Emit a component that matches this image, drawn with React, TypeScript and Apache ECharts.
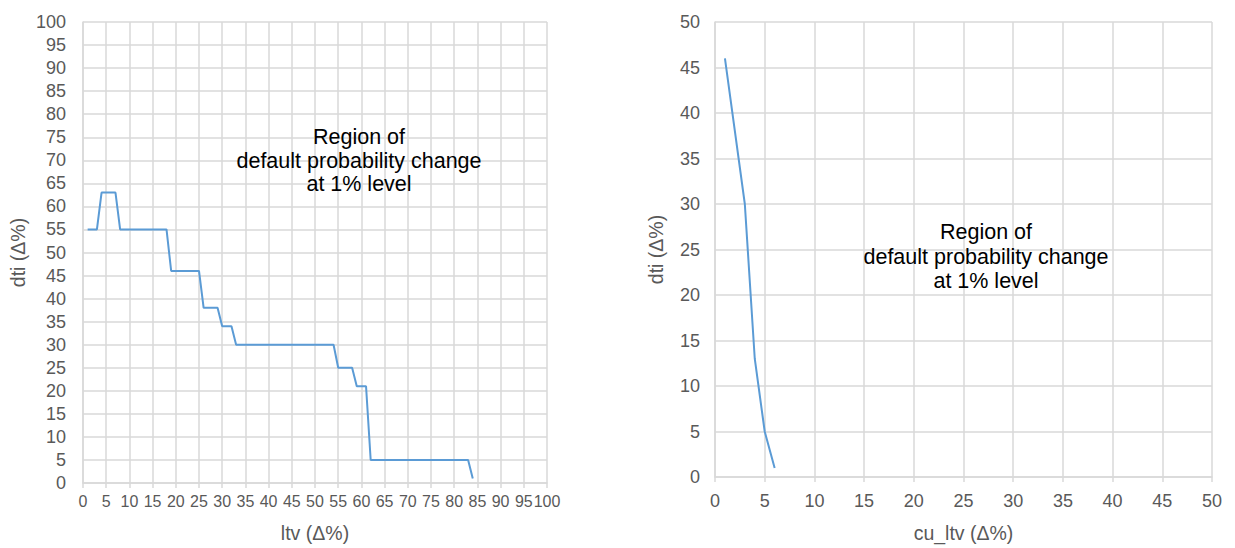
import React, { useEffect, useRef } from "react";
import * as echarts from "echarts";

// Left panel: ltv (Δ%) vs dti (Δ%)
const ltv = [1, 3, 4, 7, 8, 18, 19, 25, 26, 29, 30, 32, 33, 54, 55, 58, 59, 61, 62, 83, 84];
const dtiLeft = [55, 55, 63, 63, 55, 55, 46, 46, 38, 38, 34, 34, 30, 30, 25, 25, 21, 21, 5, 5, 1];

// Right panel: cu_ltv (Δ%) vs dti (Δ%)
const cuLtv = [1, 3, 4, 5, 6];
const dtiRight = [46, 30, 13, 5, 1];

const annotationLines = ["Region of", "default probability change", "at 1% level"];
const FONT = "'Liberation Sans', Arial, sans-serif";
const GRAY = "#595959";
const GRID = "#d9d9d9";
const BLUE = "#5b9bd5";

export default function App() {
  const ref = useRef<HTMLDivElement>(null);
  useEffect(() => {
    document.body.style.margin = "0";
    const chart = echarts.init(ref.current!, null, { renderer: "svg" });
    const axisCommon = () => ({
      type: "value",
      interval: 5,
      min: 0,
      axisLine: { show: true, lineStyle: { color: GRID, width: 1.5 } },
      splitLine: { show: true, lineStyle: { color: GRID, width: 1.5 } },
      nameTextStyle: { color: GRAY, fontSize: 19.5, fontFamily: FONT },
      nameLocation: "middle",
    });
    const annotation = (cx: number, top: number, lh: number) =>
      annotationLines.map((t, i) => ({
        type: "text",
        x: cx,
        y: top + i * lh,
        z: 100,
        style: {
          text: t,
          fill: "#000",
          font: `21.5px ${FONT}`,
          textAlign: "center",
          textVerticalAlign: "middle",
        },
      }));
    chart.setOption({
      animation: false,
      grid: [
        { left: 83, top: 22, width: 464, height: 466 },
        { left: 715, top: 22, width: 497, height: 460 },
      ],
      xAxis: [
        {
          ...axisCommon(),
          gridIndex: 0,
          max: 100,
          name: "ltv (Δ%)",
          nameGap: 40,
          axisTick: { show: true, length: 5, lineStyle: { color: GRID, width: 1.5 } },
          axisLabel: { color: GRAY, fontSize: 16, fontFamily: FONT, margin: 10, interval: 0, hideOverlap: false },
        },
        {
          ...axisCommon(),
          gridIndex: 1,
          max: 50,
          name: "cu_ltv (Δ%)",
          nameGap: 46,
          axisTick: { show: true, length: 5, lineStyle: { color: GRID, width: 1.5 } },
          axisLabel: { color: GRAY, fontSize: 18, fontFamily: FONT, margin: 15 },
        },
      ],
      yAxis: [
        {
          ...axisCommon(),
          gridIndex: 0,
          max: 100,
          name: "dti (Δ%)",
          nameGap: 55,
          axisTick: { show: false },
          axisLabel: { color: GRAY, fontSize: 18, fontFamily: FONT, margin: 17 },
        },
        {
          ...axisCommon(),
          gridIndex: 1,
          max: 50,
          name: "dti (Δ%)",
          nameGap: 49,
          axisTick: { show: false },
          axisLabel: { color: GRAY, fontSize: 18, fontFamily: FONT, margin: 15 },
        },
      ],
      series: [
        {
          type: "line",
          xAxisIndex: 0,
          yAxisIndex: 0,
          data: ltv.map((x, i) => [x, dtiLeft[i]]),
          showSymbol: false,
          lineStyle: { color: BLUE, width: 2 },
        },
        {
          type: "line",
          xAxisIndex: 1,
          yAxisIndex: 1,
          data: cuLtv.map((x, i) => [x, dtiRight[i]]),
          showSymbol: false,
          lineStyle: { color: BLUE, width: 2 },
        },
      ],
      graphic: [...annotation(359, 137, 23.5), ...annotation(986, 232, 24.5)],
    });
    return () => chart.dispose();
  }, []);
  return <div ref={ref} style={{ width: 1235, height: 548 }} />;
}
